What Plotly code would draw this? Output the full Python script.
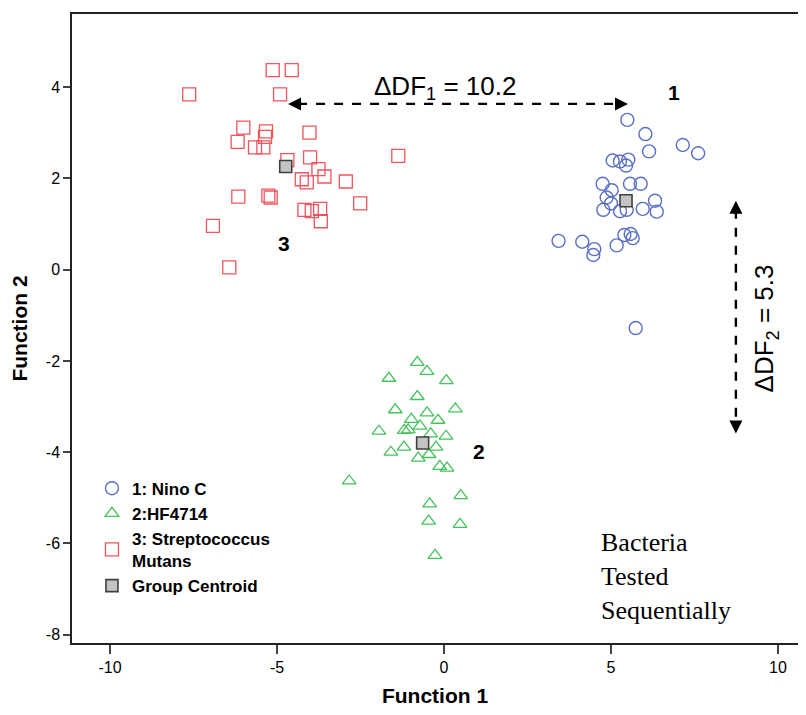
import plotly.graph_objects as go

# ---- data ----
nino_x = [5.49, 6.03, 7.15, 7.61, 6.14, 5.05, 5.27, 5.52, 5.45, 4.75, 5.57, 5.89, 5.02, 4.87, 5.00,
          6.32, 4.77, 5.27, 5.47, 5.95, 6.37, 3.43, 4.14, 4.50, 4.47, 5.17, 5.40, 5.59, 5.65, 5.74]
nino_y = [3.28, 2.97, 2.73, 2.55, 2.59, 2.39, 2.37, 2.41, 2.28, 1.88, 1.88, 1.88, 1.74, 1.58, 1.45,
          1.51, 1.31, 1.28, 1.31, 1.33, 1.27, 0.63, 0.61, 0.45, 0.32, 0.53, 0.76, 0.78, 0.69, -1.28]

hf_x = [-0.80, -0.51, -1.65, 0.07, -0.80, -1.46, -0.51, 0.34, -0.98, -0.18, -1.95, -0.72, -1.19, -1.07, -0.40,
        0.06, -1.59, -1.20, -0.24, -0.45, -0.77, -0.13, 0.09, -2.84, 0.50, -0.43, -0.46, 0.48, -0.27]
hf_y = [-2.03, -2.23, -2.38, -2.43, -2.78, -3.07, -3.14, -3.05, -3.28, -3.30, -3.54, -3.43, -3.52, -3.51, -3.60,
        -3.65, -4.00, -3.89, -3.89, -4.05, -4.13, -4.31, -4.35, -4.63, -4.95, -5.13, -5.51, -5.58, -6.26]

sm_x = [-5.13, -4.56, -7.63, -4.91, -6.01, -5.33, -5.36, -6.18, -5.66, -5.41, -4.03, -1.37, -4.69, -4.01, -3.76,
        -3.58, -4.26, -4.11, -2.94, -6.16, -5.26, -5.19, -2.51, -4.18, -3.96, -3.71, -3.69, -6.92, -6.43]
sm_y = [4.37, 4.37, 3.84, 3.84, 3.11, 3.03, 2.91, 2.80, 2.68, 2.68, 3.00, 2.49, 2.40, 2.46, 2.20,
        2.04, 1.98, 1.91, 1.93, 1.60, 1.62, 1.58, 1.45, 1.31, 1.28, 1.33, 1.06, 0.96, 0.05]

centroid_x = [5.45, -0.64, -4.74]
centroid_y = [1.51, -3.80, 2.26]

group_labels = ["1", "2", "3"]
group_label_x = [6.89, 1.05, -4.79]
group_label_y = [3.87, -3.98, 0.57]

x_ticks = [-10, -5, 0, 5, 10]
x_ticktext = ["-10", "-5", "0", "5", "10"]
y_ticks = [-8, -6, -4, -2, 0, 2, 4]
y_ticktext = ["-8", "-6", "-4", "-2", "0", "2", "4"]

# separation arrows (Delta DF)
df1_x = [-4.67, 5.51]
df1_y = 3.63
df2_x = 8.74
df2_y = [1.51, -3.59]

BLUE = "#5a6fc6"
GREEN = "#46c25c"
RED = "#f0545c"
FONT = "Liberation Sans, Arial"

fig = go.Figure()
fig.add_trace(go.Scatter(x=nino_x, y=nino_y, mode="markers", name="1: Nino C",
                         marker=dict(symbol="circle-open", size=13, color=BLUE, line=dict(width=1.4, color=BLUE))))
fig.add_trace(go.Scatter(x=hf_x, y=hf_y, mode="markers", name="2:HF4714",
                         marker=dict(symbol="triangle-up-open", size=12, color=GREEN, line=dict(width=1.3, color=GREEN))))
fig.add_trace(go.Scatter(x=sm_x, y=sm_y, mode="markers", name="3: Streptococcus<br>Mutans",
                         marker=dict(symbol="square-open", size=13, color=RED, line=dict(width=1.3, color=RED))))
fig.add_trace(go.Scatter(x=centroid_x, y=centroid_y, mode="markers", name="Group Centroid",
                         marker=dict(symbol="square", size=12, color="#c4c4c4", line=dict(width=1.6, color="#404040"))))

# arrowheads at the ends of the dashed separation lines
fig.add_trace(go.Scatter(x=df1_x, y=[df1_y, df1_y], mode="markers", showlegend=False, hoverinfo="skip",
                         marker=dict(symbol=["arrow-left", "arrow-right"], size=13, color="black",
                                     line=dict(width=0))))
fig.add_trace(go.Scatter(x=[df2_x, df2_x], y=df2_y, mode="markers", showlegend=False, hoverinfo="skip",
                         marker=dict(symbol=["arrow-up", "arrow-down"], size=13, color="black",
                                     line=dict(width=0))))

annotations = []
for t, x, y in zip(group_labels, group_label_x, group_label_y):
    annotations.append(dict(x=x, y=y, text=t, showarrow=False,
                            font=dict(family=FONT, size=21, color="black", weight="bold")))

annotations.append(dict(x=0.03, y=df1_y + 0.37, text="ΔDF<sub>1</sub> = 10.2",
                        showarrow=False, font=dict(family=FONT, size=26, color="black")))
annotations.append(dict(x=df2_x + 0.9, y=(df2_y[0] + df2_y[1]) / 2 - 0.25, text="ΔDF<sub>2</sub> = 5.3",
                        showarrow=False, textangle=-90, font=dict(family=FONT, size=26, color="black")))
annotations.append(dict(x=4.65, y=-6.72, xanchor="left", yanchor="middle", align="left",
                        text="Bacteria<br>Tested<br>Sequentially", showarrow=False,
                        font=dict(family="Liberation Serif, Times New Roman", size=26, color="black")))

shapes = [
    dict(type="line", x0=df1_x[0] + 0.3, x1=df1_x[1] - 0.3, y0=df1_y, y1=df1_y, xref="x", yref="y",
         line=dict(color="black", width=2.4, dash="dash")),
    dict(type="line", x0=df2_x, x1=df2_x, y0=df2_y[0] - 0.2, y1=df2_y[1] + 0.2, xref="x", yref="y",
         line=dict(color="black", width=2.4, dash="dash")),
]

fig.update_layout(
    width=790, height=699,
    margin=dict(l=64, r=0, t=6, b=64),
    plot_bgcolor="white", paper_bgcolor="white",
    font=dict(family=FONT, color="black"),
    annotations=annotations, shapes=shapes,
    legend=dict(x=0.0275, y=0.274, xanchor="left", yanchor="top", bgcolor="rgba(0,0,0,0)",
                font=dict(family=FONT, size=17, color="black", weight="bold"),
                tracegroupgap=0, itemwidth=30),
    xaxis=dict(range=[-11.14, 10.6], tickvals=x_ticks, ticktext=x_ticktext, ticks="outside", ticklen=9,
               tickwidth=1.5, showline=True, linecolor="#222", linewidth=1.5, mirror=True, showgrid=False,
               zeroline=False, tickfont=dict(size=16), automargin=False,
               title=dict(text="Function 1", font=dict(size=21, weight="bold"), standoff=22)),
    yaxis=dict(range=[-8.18, 5.6], tickvals=y_ticks, ticktext=y_ticktext, ticks="outside", ticklen=7,
               tickwidth=1.5, showline=True, linecolor="#222", linewidth=1.5, mirror=False, showgrid=False,
               zeroline=False, tickfont=dict(size=16), automargin=False,
               title=dict(text="Function 2", font=dict(size=21, weight="bold"), standoff=12)),
)

fig.write_html("out.html")
